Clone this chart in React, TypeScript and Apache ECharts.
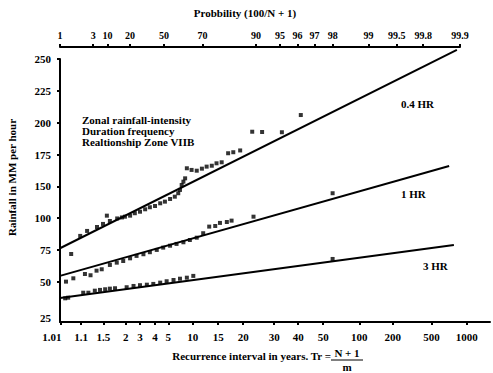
import React, { useEffect, useRef } from "react";
import * as echarts from "echarts";

// Bottom axis: recurrence interval (positions on the printed paper scale, 0-100)
const xTickPos = [0.2, 4.9, 10.1, 15.3, 18.6, 22.1, 25.2, 30.9, 36.8, 42.6, 49.8, 55.4, 61.2, 69.6, 77.4, 86.4, 94.6];
const xTickLabels = ["1.01", "1.1", "1.5", "2", "3", "4", "5", "10", "15", "20", "30", "40", "50", "100", "200", "500", "1000"];

// Top axis: probability (positions on the printed paper scale, 0-100)
const topTickPos = [0, 8.3, 11.9, 17.5, 26, 35.6, 49, 55, 59.4, 63.6, 68.2, 77.1, 84.2, 90.8, 100];
const topTickLabels = ["1", "3", "10", "20", "50", "70", "90", "95", "96", "97", "98", "99", "99.5", "99.8", "99.9"];

// Left axis: rainfall (printed labels as they appear)
const yTickPos = [250, 225, 200, 175, 150, 125, 100, 75, 47];
const yTickLabels = ["250", "225", "200", "175", "150", "100", "75", "50", "25"];

// Observed points [paper position, rainfall]
const pts04: [number, number][] = [
  [2.6, 96.9], [4.7, 111.1], [6.3, 115], [8.6, 118.1], [10.0, 120.5], [10.9, 127], [11.6, 122.8],
  [13.3, 124.8], [14.4, 125.6], [15.1, 126.2], [16.3, 127], [17.4, 128.9], [18.6, 130.1], [19.8, 132],
  [20.9, 133.6], [22.1, 134.6], [23.3, 136.7], [24.4, 138], [25.6, 140.1], [26.7, 141.9], [27.5, 144.6],
  [27.9, 147.2], [28.3, 151.1], [28.7, 153.7], [29.1, 156.3], [29.5, 164.2], [30.6, 162.9], [31.8, 162.3],
  [33.0, 163.9], [34.1, 165.5], [35.3, 166.2], [36.4, 168.1], [37.6, 168.9], [39.1, 176], [40.3, 176.8],
  [41.9, 178.2], [44.7, 192.9], [47.0, 192.7], [51.6, 192.5], [56.0, 206],
];
const pts1: [number, number][] = [
  [1.4, 75.2], [3.1, 77.8], [5.8, 81.2], [7.1, 80.2], [8.5, 83.8], [9.7, 84.9], [11.6, 88.3], [13.2, 90.1],
  [14.7, 91.4], [16.3, 93.5], [17.8, 95.4], [19.4, 96.7], [20.9, 98.3], [22.5, 100.1], [24.0, 101.9],
  [25.6, 103.4], [27.1, 104.8], [28.7, 106.1], [30.2, 107.9], [31.8, 109.7], [33.3, 113.2], [34.7, 118.4],
  [36.1, 118.9], [37.2, 121.3], [38.8, 122], [39.9, 123.1], [45.0, 126.2], [63.4, 144.6],
];
const pts3: [number, number][] = [
  [1.2, 62.1], [1.9, 62.6], [5.4, 66.5], [6.6, 66.5], [8.1, 68.1], [9.3, 68.7], [10.5, 69.2], [11.6, 69.7],
  [12.8, 70], [15.5, 70.8], [17.1, 71.8], [18.6, 72.4], [20.2, 72.8], [21.7, 73.4], [23.3, 74.4], [24.8, 75.5],
  [26.4, 76.5], [27.9, 77.5], [29.5, 78.3], [31.0, 79.7], [63.4, 93],
];

// Fitted lines (end points)
const fit04: [number, number][] = [[0, 101.4], [92.3, 257.1]];
const fit1: [number, number][] = [[0, 79.7], [90.5, 166]];
const fit3: [number, number][] = [[0, 62.4], [91.6, 104]];

const FONT = "Liberation Serif";

function nearest(pos: number[], v: number) {
  let best = 0;
  for (let i = 1; i < pos.length; i++) if (Math.abs(pos[i] - v) < Math.abs(pos[best] - v)) best = i;
  return best;
}
function labelFor(pos: number[], labels: string[]) {
  return (v: number) => labels[nearest(pos, v)];
}

export default function App() {
  const ref = useRef<HTMLDivElement>(null);
  useEffect(() => {
    if (!ref.current) return;
    const chart = echarts.init(ref.current, null, { renderer: "svg" });
    const axisLine = { show: true, onZero: false, lineStyle: { color: "#000", width: 2 } };
    const tickStyle = { color: "#000", width: 2 };
    const lbl = { color: "#000", fontFamily: FONT, fontWeight: "bold" as const, fontSize: 11 };
    const scatter = (data: [number, number][]) => ({
      type: "scatter", xAxisIndex: 0, yAxisIndex: 0, data, symbol: "rect", symbolSize: 4,
      itemStyle: { color: "#000" }, silent: true,
    });
    const line = (data: [number, number][]) => ({
      type: "line", xAxisIndex: 0, yAxisIndex: 0, data, symbol: "none", clip: false,
      lineStyle: { color: "#000", width: 2 }, silent: true,
    });
    const txt = (text: string, x: number, y: number, align = "left", size = 11) => ({
      type: "text", x, y, silent: true,
      style: { text, fill: "#000", font: `bold ${size}px "${FONT}"`, align, verticalAlign: "middle" },
    });
    chart.setOption({
      animation: false,
      backgroundColor: "#fff",
      grid: [
        { left: 60, right: 3, top: 59, bottom: 51, outerBoundsMode: "none" },
        { left: 60, top: 47, width: 400, height: 10, outerBoundsMode: "none" },
      ],
      xAxis: [
        {
          type: "value", gridIndex: 0, min: 0, max: 100, position: "bottom",
          axisLine, splitLine: { show: false },
          axisTick: { show: true, customValues: xTickPos, length: 3, lineStyle: tickStyle },
          axisLabel: {
            ...lbl, customValues: xTickPos, margin: 9,
            formatter: (v: number) => {
              const i = nearest(xTickPos, v);
              return i === 0 ? `{first|${xTickLabels[i]}}` : xTickLabels[i];
            },
            rich: { first: { ...lbl, padding: [0, 18, 0, 0] } },
          },
        },
        {
          type: "value", gridIndex: 1, min: 0, max: 100, position: "top",
          axisLine, splitLine: { show: false },
          axisTick: { show: true, customValues: topTickPos, length: 3, lineStyle: tickStyle },
          axisLabel: { ...lbl, fontSize: 10, customValues: topTickPos, margin: 7, formatter: labelFor(topTickPos, topTickLabels) },
        },
      ],
      yAxis: [
        {
          type: "value", gridIndex: 0, min: 43.5, max: 250,
          axisLine, splitLine: { show: false },
          axisTick: { show: true, customValues: yTickPos.slice(0, 8), length: 3, lineStyle: tickStyle },
          axisLabel: { ...lbl, customValues: yTickPos, margin: 9, formatter: labelFor(yTickPos, yTickLabels) },
          name: "Rainfall in MM per hour", nameLocation: "middle", nameGap: 43,
          nameTextStyle: { ...lbl, padding: [0, 0, 0, 26] },
        },
        { type: "value", gridIndex: 1, show: false, min: 0, max: 1 },
      ],
      series: [scatter(pts04), scatter(pts1), scatter(pts3), line(fit04), line(fit1), line(fit3)],
      graphic: [
        txt("Probbility (100/N + 1)", 245, 13, "center"),
        txt("Zonal rainfall-intensity", 82, 120),
        txt("Duration frequency", 82, 131),
        txt("Realtionship Zone VIIB", 82, 142),
        txt("0.4 HR", 401, 104),
        txt("1 HR", 401, 194),
        txt("3 HR", 423, 266),
        txt("Recurrence interval in years. Tr =", 331, 356, "right"),
        txt("N + 1", 347, 353, "center"),
        { type: "line", silent: true, shape: { x1: 331, y1: 360, x2: 363, y2: 360 }, style: { stroke: "#000", lineWidth: 1 } },
        txt("m", 347, 367, "center"),
      ],
    });
    return () => chart.dispose();
  }, []);
  return <div ref={ref} style={{ position: "fixed", left: 0, top: 0, width: 493, height: 373 }} />;
}
